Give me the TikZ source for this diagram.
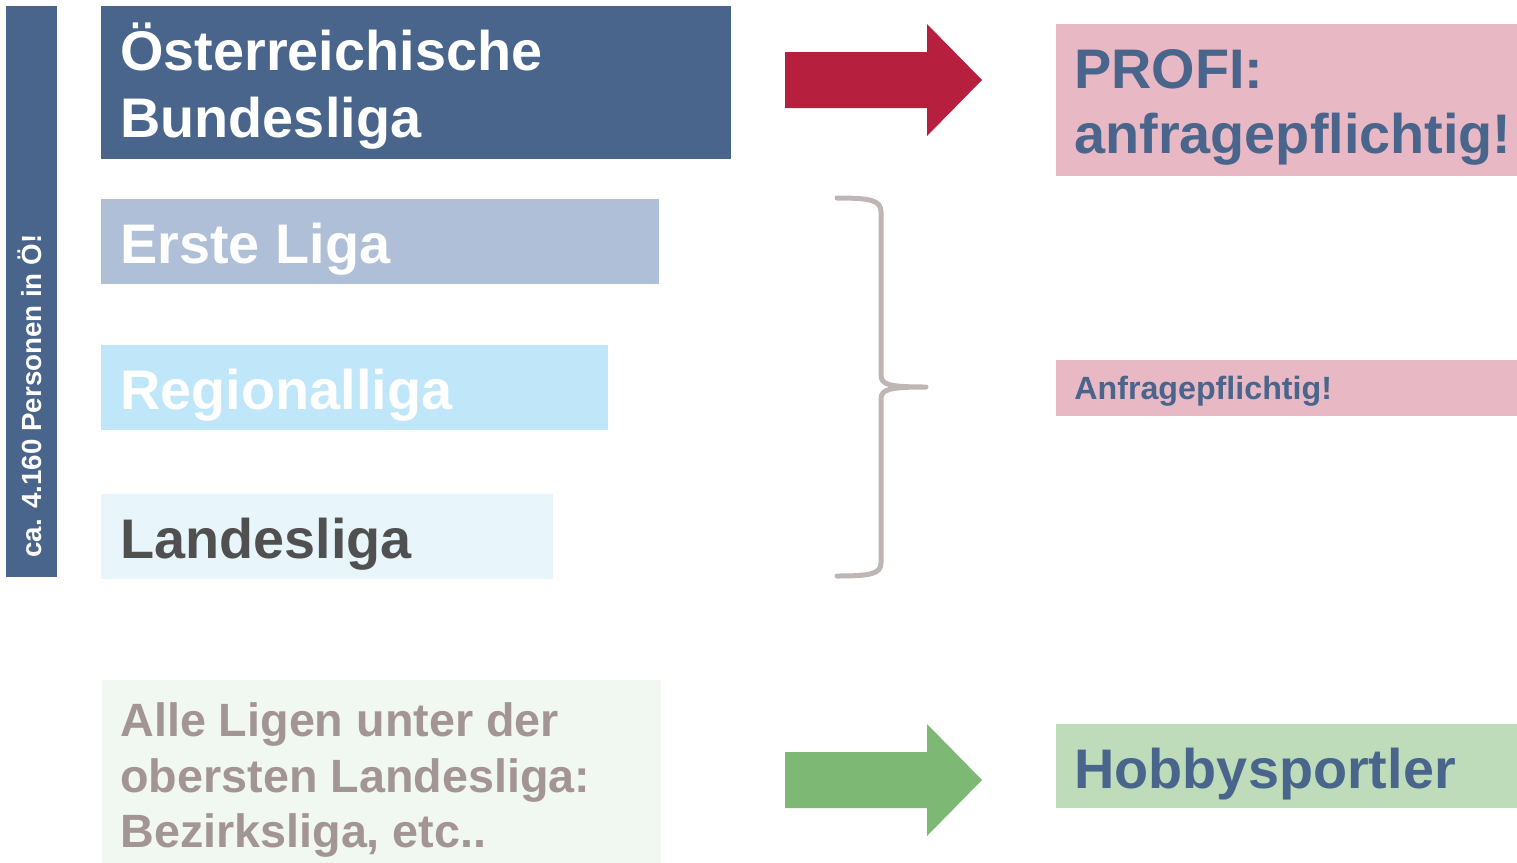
\documentclass[tikz,border=0pt]{standalone}
\usepackage{fontspec}
\setmainfont{Liberation Sans}
\definecolor{navy}{RGB}{73,101,140}
\definecolor{erste}{RGB}{175,191,215}
\definecolor{regio}{RGB}{192,231,249}
\definecolor{landes}{RGB}{232,245,251}
\definecolor{landtxt}{RGB}{80,80,80}
\definecolor{alle}{RGB}{241,247,241}
\definecolor{alletxt}{RGB}{163,149,148}
\definecolor{arrred}{RGB}{183,31,63}
\definecolor{arrgreen}{RGB}{125,184,116}
\definecolor{pinkbox}{RGB}{232,185,196}
\definecolor{greenbox}{RGB}{190,220,186}
\definecolor{bracecol}{RGB}{191,181,181}
\tikzset{
  box/.style={rectangle, inner sep=0pt, outer sep=0pt, anchor=north west},
  big/.style={anchor=base west, inner sep=0pt, font=\fontsize{27.9pt}{33pt}\selectfont\bfseries},
  mid/.style={anchor=base west, inner sep=0pt, font=\fontsize{23.35pt}{28pt}\selectfont\bfseries},
}
\begin{document}
\begin{tikzpicture}[x=0.5pt,y=-0.5pt]
\useasboundingbox (0,0) rectangle (1517,863);
% vertical bar
\node[box, fill=navy, minimum width=25.5pt, minimum height=285.5pt] (bar) at (6,6) {};
\node[anchor=base, inner sep=0pt, rotate=90, text=white, font=\fontsize{13.85pt}{16pt}\selectfont\bfseries] (bartxt) at (41,396) {ca. 4.160 Personen in Ö!};
% left boxes
\node[box, fill=navy, minimum width=315pt, minimum height=76.5pt] (bl) at (101,6) {};
\node[big, text=white] (blt1) at (120,70) {Österreichische};
\node[big, text=white] (blt2) at (120,137) {Bundesliga};
\node[box, fill=erste, minimum width=279pt, minimum height=42.5pt] (el) at (101,199) {};
\node[big, text=white] (elt) at (120,263) {Erste Liga};
\node[box, fill=regio, minimum width=253.5pt, minimum height=42.5pt] (rl) at (101,345) {};
\node[big, text=white] (rlt) at (120,409) {Regionalliga};
\node[box, fill=landes, minimum width=226pt, minimum height=42.5pt] (ll) at (101,494) {};
\node[big, text=landtxt] (llt) at (120,558) {Landesliga};
\node[box, fill=alle, minimum width=279.5pt, minimum height=91.5pt] (al) at (102,680) {};
\node[mid, text=alletxt] (alt1) at (120,736) {Alle Ligen unter der};
\node[mid, text=alletxt] (alt2) at (120,792) {obersten Landesliga:};
\node[mid, text=alletxt] (alt3) at (120,847) {Bezirksliga, etc..};
% right boxes
\node[box, fill=pinkbox, minimum width=230.5pt, minimum height=76pt] (pr) at (1056,24) {};
\node[big, text=navy] (prt1) at (1074,88) {PROFI:};
\node[big, text=navy] (prt2) at (1074,153) {anfragepflichtig!};
\node[box, fill=pinkbox, minimum width=230.5pt, minimum height=28pt] (an) at (1056,360) {};
\node[anchor=base west, inner sep=0pt, text=navy, font=\fontsize{16.1pt}{19pt}\selectfont\bfseries] (ant) at (1074,399) {Anfragepflichtig!};
\node[box, fill=greenbox, minimum width=230.5pt, minimum height=42pt] (hb) at (1056,724) {};
\node[big, text=navy] (hbt) at (1074,788) {Hobbysportler};
% arrows
\fill[arrred] (785,52) -- (927,52) -- (927,24) -- (982,80) -- (927,136) -- (927,108) -- (785,108) -- cycle;
\fill[arrgreen] (785,752) -- (927,752) -- (927,724) -- (982,780) -- (927,836) -- (927,808) -- (785,808) -- cycle;
% brace
\draw[bracecol, line width=2.5pt, line cap=round, line join=round]
  (837,198) .. controls (870,198) and (881,200) .. (881,212) -- (881,375)
  .. controls (881,385) and (890,387) .. (926,387)
  .. controls (890,387) and (881,389) .. (881,399) -- (881,563)
  .. controls (881,574) and (870,576) .. (837,576);
\end{tikzpicture}
\end{document}
